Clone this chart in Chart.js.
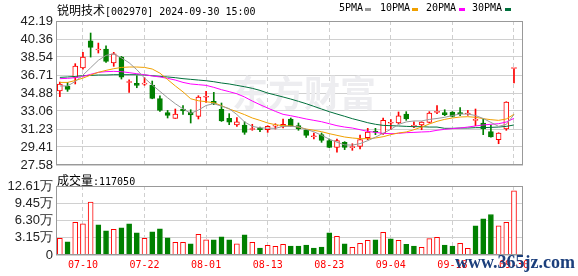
<!DOCTYPE html>
<html>
<head>
<meta charset="utf-8">
<script src="https://cdn.jsdelivr.net/npm/chart.js@4.4.1/dist/chart.umd.min.js"></script>
<style>
  body { margin: 0; width: 578px; height: 276px; position: relative; background: #fff; overflow: hidden; }
  canvas { position: absolute; left: 0; }
  #price { top: 0; }
  #vol { top: 170px; }
  .t { position: absolute; white-space: nowrap; color: #000; line-height: 14px; }
  .cjk { font: 12px "Noto Sans CJK SC"; }
  .mono { font: 10px "DejaVu Sans Mono"; }
  .sw { position: absolute; width: 6px; height: 3px; top: 8px; }
  #site { position: absolute; left: 455px; top: 252px; font: bold 18px "Liberation Serif"; color: #1c3f7c; }
</style>
</head>
<body>
<canvas id="price" width="578" height="177"></canvas>
<canvas id="vol" width="578" height="106"></canvas>

<div class="t" style="left:57px;top:1px"><span class="cjk">锐明技术</span><span class="mono">[002970] 2024-09-30 15:00</span></div>

<div class="t mono" style="left:339px;top:2px">5PMA</div><div class="sw" style="left:365px;background:#999"></div>
<div class="t mono" style="left:380px;top:2px">10PMA</div><div class="sw" style="left:412px;background:#f0a000"></div>
<div class="t mono" style="left:426px;top:2px">20PMA</div><div class="sw" style="left:459px;background:#ff00ff"></div>
<div class="t mono" style="left:472px;top:2px">30PMA</div><div class="sw" style="left:505px;background:#00703c"></div>

<div class="t" style="left:57px;top:171px"><span class="cjk">成交量</span><span class="mono" id="vlast"></span></div>
<div id="site">www.365jz.com</div>

<script>
// trading days shown
const dates = ['07-05','07-08','07-09','07-10','07-11','07-12','07-15','07-16','07-17','07-18','07-19','07-22','07-23','07-24','07-25','07-26','07-29','07-30','07-31',
  '08-01','08-02','08-05','08-06','08-07','08-08','08-09','08-12','08-13','08-14','08-15','08-16','08-19','08-20','08-21','08-22','08-23','08-26','08-27','08-28','08-29','08-30',
  '09-02','09-03','09-04','09-05','09-06','09-09','09-10','09-11','09-12','09-13','09-18','09-19','09-20','09-23','09-24','09-25','09-26','09-27','09-30'];

const opens  = [35.10,35.56,36.47,37.42,40.19,39.25,39.35,37.93,38.53,35.95,35.86,35.78,35.69,34.31,32.89,32.31,33.26,32.96,32.52,34.45,
                34.04,33.23,32.31,31.64,31.64,31.18,31.33,31.16,31.52,31.50,32.25,31.57,31.16,30.45,30.66,30.05,29.37,29.88,29.35,29.47,
                30.35,30.96,30.76,31.82,31.84,32.75,31.50,31.64,31.91,32.92,32.89,32.96,32.85,32.75,32.10,31.84,30.96,30.15,31.23,37.37];
const highs  = [36.00,35.96,37.86,39.01,40.97,39.95,39.68,39.01,38.60,36.23,36.64,36.44,36.10,34.61,33.12,33.26,33.60,33.19,34.61,35.05,
                34.95,33.87,32.79,32.38,31.97,31.71,31.43,31.57,31.77,32.25,32.35,31.84,31.20,30.83,30.83,30.22,30.22,29.95,29.74,30.62,
                31.30,31.30,32.35,32.18,32.96,32.99,31.97,31.97,32.99,33.60,33.19,33.00,33.40,33.12,33.26,32.25,31.64,30.85,34.00,37.37];
const lows   = [34.50,35.05,35.80,37.30,38.53,38.94,37.99,37.59,36.30,34.95,35.42,35.66,34.30,33.02,32.35,32.31,32.72,31.84,32.25,33.94,
                33.70,32.00,31.67,31.50,30.69,31.10,30.96,30.89,31.23,31.33,31.50,31.10,30.39,30.22,29.88,29.34,28.87,29.14,29.07,29.20,
                30.15,30.66,30.69,31.16,31.77,32.11,31.37,31.16,31.84,32.79,32.58,32.45,32.58,32.62,31.57,30.66,30.40,29.74,31.10,35.90];
const closes = [35.80,35.25,37.62,38.53,39.51,39.32,38.09,38.87,36.50,36.00,35.66,35.83,34.34,33.12,32.62,32.75,33.06,32.65,34.48,34.50,
                33.83,32.05,31.92,31.97,30.89,31.23,31.16,31.50,31.57,31.71,31.57,31.23,30.59,30.50,30.08,29.37,30.05,29.37,29.40,30.15,
                30.93,30.90,32.11,31.86,32.58,32.25,31.55,31.94,32.85,32.97,32.69,32.52,32.80,32.82,32.15,31.23,30.42,30.83,33.97,37.37];

// volume in lots
const volumes = [30600,23900,59900,56900,96600,55000,44000,47100,49500,56900,40400,30600,42200,47700,31200,23200,23200,20200,37900,27500,
                 27500,33000,27500,20200,36700,23200,12800,17700,15900,19600,16500,16500,18300,12800,14700,40400,34200,20200,14100,21400,
                 26900,27500,41600,29400,26900,19600,16500,14100,29900,32400,18300,16500,21400,12200,53200,66100,74000,53200,59900,117050];

// moving averages as drawn
const ma5  = [35.60,35.60,36.05,36.70,37.45,38.20,38.70,38.86,38.45,37.95,37.25,36.40,35.70,35.05,34.40,33.80,33.28,32.82,33.15,33.62,
              33.80,33.55,33.30,32.70,31.95,31.50,31.35,31.32,31.30,31.50,31.50,31.45,31.20,30.95,30.60,30.20,29.90,29.62,29.60,29.75,
              30.05,30.40,30.80,31.20,31.70,31.95,32.05,32.05,32.20,32.30,32.42,32.60,32.75,32.75,32.60,32.30,31.90,31.50,31.70,32.70];
const ma10 = [35.96,35.96,36.15,36.40,36.70,36.98,37.18,37.35,37.48,37.52,37.52,37.48,37.32,36.90,36.25,35.60,35.00,34.30,34.10,34.00,
              33.90,33.60,33.26,32.99,32.69,32.35,32.11,31.84,31.67,31.57,31.55,31.43,31.23,31.10,30.96,30.76,30.59,30.42,30.32,30.25,
              30.25,30.32,30.45,30.66,30.83,30.93,31.16,31.43,31.74,32.01,32.21,32.35,32.45,32.48,32.42,32.28,32.18,32.11,32.25,32.72];
const ma20 = [36.34,36.37,36.44,36.57,36.78,36.98,37.05,37.08,37.05,36.95,36.84,36.74,36.61,36.51,36.37,36.20,35.96,35.80,35.73,35.66,
              35.46,35.22,35.02,34.81,34.48,34.07,33.70,33.36,33.02,32.72,32.58,32.42,32.25,32.11,31.97,31.77,31.57,31.43,31.33,31.16,
              30.99,30.89,30.79,30.76,30.79,30.86,30.89,30.93,30.96,31.10,31.20,31.27,31.33,31.43,31.54,31.64,31.71,31.77,31.94,32.31];
const ma30 = [36.47,36.51,36.57,36.64,36.67,36.71,36.71,36.74,36.74,36.74,36.74,36.71,36.64,36.57,36.51,36.44,36.34,36.27,36.20,36.13,
              36.03,35.90,35.80,35.66,35.52,35.36,35.15,34.88,34.68,34.48,34.27,34.04,33.80,33.53,33.26,32.99,32.75,32.52,32.28,32.08,
              31.87,31.71,31.60,31.57,31.54,31.50,31.47,31.47,31.43,31.43,31.30,31.30,31.33,31.33,31.37,31.37,31.40,31.43,31.50,31.64];

const priceTicks = [27.58, 29.41, 31.23, 33.06, 34.88, 36.71, 38.54, 40.36, 42.19];
const volTicks = [0, 31525, 63050, 94575, 126100];
const volTickLabels = ['0', '3.15万', '6.30万', '9.45万', '12.61万'];
const labelIdx = [3, 11, 19, 27, 35, 43, 51, 59];

const RED = '#ff0000', GREEN = '#008000';

document.getElementById('vlast').textContent = ':' + volumes[volumes.length - 1];

// box around the plot area
const framePlugin = {
  id: 'frame',
  afterDatasetsDraw(chart) {
    const { ctx, chartArea: a } = chart;
    ctx.save();
    ctx.strokeStyle = '#999';
    ctx.lineWidth = 1;
    ctx.strokeRect(Math.round(a.left) + 0.5, Math.round(a.top) + 0.5,
      Math.round(a.right - a.left) - 1, Math.round(a.bottom - a.top) - 1);
    ctx.restore();
  }
};

const watermarkPlugin = {
  id: 'watermark',
  beforeDatasetsDraw(chart) {
    const ctx = chart.ctx;
    ctx.save();
    ctx.font = 'bold 36px "Noto Sans CJK SC"';
    ctx.fillStyle = '#ededf0';
    ctx.textBaseline = 'alphabetic';
    ctx.fillText('东方财富', 232, 107);
    ctx.restore();
  }
};

function xScale(showLabels) {
  return {
    type: 'linear',
    min: -0.5,
    max: 60.17,
    offset: false,
    afterBuildTicks: s => { s.ticks = labelIdx.map(v => ({ value: v })); },
    afterFit: s => { s.height = showLabels ? 21 : 0; },
    grid: { color: '#cfcfcf', drawTicks: false, offset: false, borderDash: [4, 3] },
    border: { display: false, dash: [4, 3] },
    ticks: {
      display: showLabels,
      padding: 4,
      color: RED,
      autoSkip: false,
      maxRotation: 0,
      font: { family: 'DejaVu Sans Mono', size: 10 },
      callback: v => dates[v]
    }
  };
}

function yTicks(cb) {
  return {
    padding: 3,
    color: '#222',
    autoSkip: false,
    font: { family: 'Liberation Sans', size: 13 },
    callback: cb
  };
}

const candleUp = closes.map((c, i) => c >= opens[i]);
const volUp = closes.map((c, i) => i === 0 || c >= closes[i - 1]);

function maLine(label, values, color) {
  return {
    type: 'line', label,
    data: values.map((v, i) => ({ x: i, y: v })),
    borderColor: color, borderWidth: 1, pointRadius: 0, tension: 0, order: 0
  };
}

new Chart(document.getElementById('price'), {
  type: 'bar',
  data: {
    datasets: [
      maLine('5PMA', ma5, '#999999'),
      maLine('10PMA', ma10, '#f0a000'),
      maLine('20PMA', ma20, '#ff00ff'),
      maLine('30PMA', ma30, '#00703c'),
      {
        label: 'body',
        data: opens.map((o, i) => ({ x: i, y: [o, closes[i]] })),
        backgroundColor: candleUp.map(u => u ? '#ffffff' : GREEN),
        borderColor: candleUp.map(u => u ? RED : GREEN),
        borderWidth: 1,
        borderSkipped: false,
        barThickness: 5,
        minBarLength: 1,
        grouped: false,
        order: 1
      },
      {
        label: 'wick',
        data: lows.map((l, i) => ({ x: i, y: [l, highs[i]] })),
        backgroundColor: candleUp.map(u => u ? RED : GREEN),
        barThickness: 1,
        grouped: false,
        order: 2
      }
    ]
  },
  options: {
    responsive: false,
    animation: false,
    devicePixelRatio: 1,
    layout: { padding: { top: 21, right: 55, bottom: 12, left: 0 } },
    plugins: { legend: { display: false }, tooltip: { enabled: false } },
    scales: {
      x: xScale(false),
      y: {
        min: 27.58,
        max: 42.19,
        afterBuildTicks: s => { s.ticks = priceTicks.map(v => ({ value: v })); },
        afterFit: s => { s.width = 56; },
        grid: { color: '#d0d0d0', drawTicks: false },
        border: { display: false },
        ticks: yTicks(v => v.toFixed(2))
      }
    }
  },
  plugins: [watermarkPlugin, framePlugin]
});

new Chart(document.getElementById('vol'), {
  type: 'bar',
  data: {
    datasets: [{
      label: 'volume',
      data: volumes.map((v, i) => ({ x: i, y: v })),
      backgroundColor: volUp.map(u => u ? '#ffffff' : GREEN),
      borderColor: volUp.map(u => u ? RED : GREEN),
      borderWidth: 1,
      borderSkipped: 'start',
      barThickness: 5,
      grouped: false
    }]
  },
  options: {
    responsive: false,
    animation: false,
    devicePixelRatio: 1,
    layout: { padding: { top: 16, right: 55, bottom: 0, left: 0 } },
    plugins: { legend: { display: false }, tooltip: { enabled: false } },
    scales: {
      x: xScale(true),
      y: {
        min: 0,
        max: 126100,
        afterBuildTicks: s => { s.ticks = volTicks.map(v => ({ value: v })); },
        afterFit: s => { s.width = 56; },
        grid: { color: '#d0d0d0', drawTicks: false },
        border: { display: false },
        ticks: yTicks((v, idx) => volTickLabels[idx])
      }
    }
  },
  plugins: [framePlugin]
});
</script>
</body>
</html>
